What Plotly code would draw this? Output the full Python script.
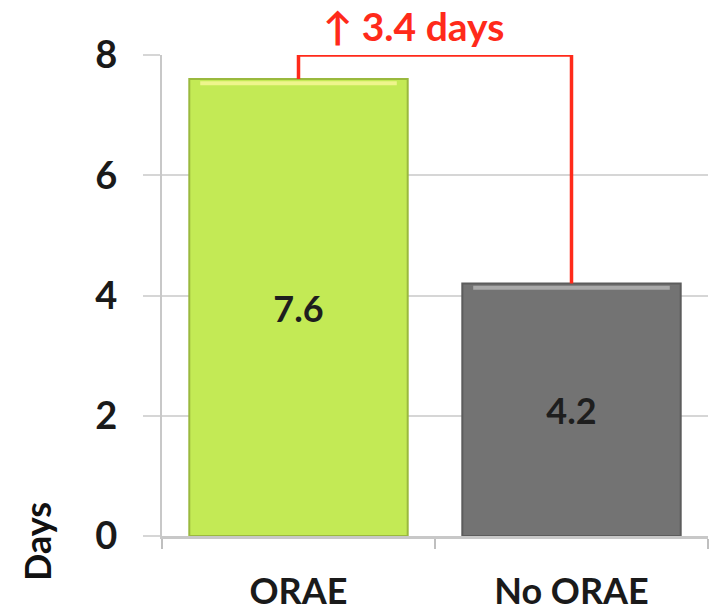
import plotly.graph_objects as go

# Mean length of stay by group
categories = ["ORAE", "No ORAE"]
days = [7.6, 4.2]
bar_colors = ["#c3ea55", "#737373"]
bar_edges = ["#9ab93e", "#5c5c5c"]
bar_highlights = ["#eef58c", "#a9a9a9"]
y_ticks = [0, 2, 4, 6, 8]
bracket_top = 8.0

diff = round(days[0] - days[1], 1)
FONT = "Lato"
BAR_WIDTH = 0.8

fig = go.Figure()

fig.add_trace(go.Bar(
    x=categories,
    y=days,
    marker=dict(color=bar_colors, line=dict(color=bar_edges, width=2)),
    text=[f"{v:.1f}" for v in days],
    textposition="inside",
    insidetextanchor="middle",
    textfont=dict(family=FONT, size=36, color="#1e1e1e", weight="bold"),
    width=BAR_WIDTH,
    hoverinfo="skip",
))

# Soft bevel highlight along each bar top
for i, (v, hl) in enumerate(zip(days, bar_highlights)):
    fig.add_shape(
        type="line", xref="x", yref="y",
        x0=i - BAR_WIDTH / 2 + 0.04, x1=i + BAR_WIDTH / 2 - 0.04,
        y0=v - 0.07, y1=v - 0.07,
        line=dict(color=hl, width=4),
        layer="above",
    )

# Difference bracket joining the two bar tops
fig.add_trace(go.Scatter(
    x=[categories[0], categories[0], categories[1], categories[1]],
    y=[days[0], bracket_top, bracket_top, days[1]],
    mode="lines",
    line=dict(color="#ff2a1a", width=3.5),
    hoverinfo="skip",
    cliponaxis=False,
))

fig.add_annotation(
    x=0.5, xref="x", y=bracket_top, yref="y",
    text=f"\u2191 {diff} days",
    showarrow=False,
    xanchor="center", yanchor="bottom",
    xshift=-22, yshift=4,
    font=dict(family=FONT, size=39, color="#ff2a1a", weight="bold"),
)

fig.add_annotation(
    x=0, xref="paper", y=0, yref="paper",
    text="Days", textangle=-90,
    showarrow=False,
    xanchor="center", yanchor="middle",
    xshift=-125, yshift=-6,
    font=dict(family=FONT, size=36, color="#111111", weight="bold"),
)

fig.update_layout(
    width=714, height=616,
    margin=dict(l=162, r=6, t=55, b=80),
    paper_bgcolor="white",
    plot_bgcolor="white",
    showlegend=False,
    bargap=0.2,
)

fig.update_xaxes(
    type="category",
    automargin=False,
    tickson="boundaries",
    ticks="outside", ticklen=10, tickcolor="#bfbfbf", tickwidth=2,
    showline=True, linecolor="#c8c8c8", linewidth=3,
    showgrid=False,
    tickfont=dict(family=FONT, size=36, color="#1a1a1a", weight="bold"),
    ticklabelstandoff=22,
)

fig.update_yaxes(
    range=[0, 8],
    automargin=False,
    tickvals=y_ticks,
    ticks="outside", ticklen=17, tickcolor="#d6d6d6", tickwidth=2,
    showgrid=True, gridcolor="#d6d6d6", gridwidth=2,
    showline=True, linecolor="#c8c8c8", linewidth=2,
    zeroline=False,
    tickfont=dict(family=FONT, size=38, color="#1a1a1a", weight="bold"),
    ticklabelstandoff=18,
)

fig.write_html("out.html")
